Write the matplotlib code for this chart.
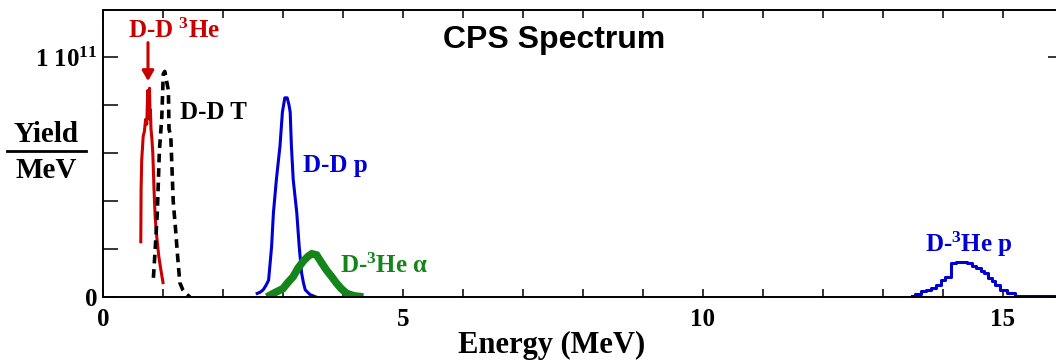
import numpy as np
import matplotlib.pyplot as plt
from matplotlib.lines import Line2D

plt.rcParams['font.family'] = 'Liberation Serif'
plt.rcParams['font.weight'] = 'bold'
plt.rcParams['mathtext.fontset'] = 'custom'
plt.rcParams['mathtext.rm'] = 'Liberation Serif:bold'
plt.rcParams['mathtext.default'] = 'rm'

# spectra, energy in MeV, yield/MeV in units of 1e11
dd_he3_e = [0.63, 0.635, 0.645, 0.66, 0.67, 0.69, 0.71, 0.73, 0.745, 0.76, 0.775, 0.785,
            0.79, 0.80, 0.815, 0.83, 0.85, 0.87, 0.90, 0.93, 0.96, 0.98, 1.0]
dd_he3_y = [0.23, 0.45, 0.57, 0.63, 0.67, 0.69, 0.74, 0.72, 0.86, 0.80, 0.87, 0.74,
            0.78, 0.70, 0.66, 0.60, 0.45, 0.33, 0.24, 0.17, 0.12, 0.09, 0.06]

dd_t_e = [0.84, 0.87, 0.905, 0.94, 0.98, 1.005, 1.03, 1.06, 1.09, 1.10, 1.13, 1.17,
          1.21, 1.24, 1.28, 1.33, 1.40, 1.45]
dd_t_y = [0.08, 0.20, 0.35, 0.61, 0.75, 0.93, 0.94, 0.90, 0.86, 0.70, 0.67, 0.40,
          0.28, 0.18, 0.06, 0.03, 0.01, 0.0]

dd_p_e = [2.57, 2.62, 2.67, 2.72, 2.76, 2.81, 2.84, 2.89, 2.92, 2.95, 2.99, 3.03,
          3.07, 3.10, 3.12, 3.14, 3.17, 3.20, 3.23, 3.27, 3.31, 3.34, 3.37, 3.41,
          3.45, 3.50, 3.55]
dd_p_y = [0.015, 0.02, 0.03, 0.05, 0.07, 0.21, 0.35, 0.49, 0.56, 0.63, 0.77, 0.83,
          0.83, 0.80, 0.77, 0.63, 0.49, 0.42, 0.35, 0.21, 0.10, 0.06, 0.03, 0.02,
          0.01, 0.005, 0.0]

dhe3_a_e = [2.73, 2.84, 3.00, 3.08, 3.17, 3.25, 3.34, 3.42, 3.48, 3.56, 3.65, 3.73,
            3.81, 3.89, 3.97, 4.06, 4.18, 4.34]
dhe3_a_y = [0.0, 0.015, 0.035, 0.06, 0.085, 0.12, 0.15, 0.17, 0.18, 0.175, 0.14, 0.11,
            0.085, 0.058, 0.035, 0.015, 0.005, 0.0]

dhe3_p_e = [13.48, 13.58, 13.67, 13.76, 13.84, 13.93, 14.0, 14.08, 14.17, 14.26, 14.34,
            14.45, 14.52, 14.59, 14.66, 14.72, 14.78, 14.84, 14.90, 15.0, 15.12, 15.28,
            15.45, 15.6, 15.75, 15.9, 16.0]
dhe3_p_y = [0.005, 0.012, 0.023, 0.03, 0.036, 0.05, 0.07, 0.085, 0.14, 0.147, 0.147,
            0.14, 0.13, 0.12, 0.11, 0.10, 0.078, 0.065, 0.05, 0.03, 0.015, 0.005,
            0.004, 0.003, 0.003, 0.003, 0.003]

RED = '#c80000'
BLUE = '#0000d2'
GREEN = '#13851a'

fig = plt.figure(figsize=(10.56, 3.6), dpi=100)
ax = fig.add_axes([103 / 1056, 63 / 360, 960 / 1056, 287 / 360])

scale = 1e11
ax.plot(dd_he3_e, np.array(dd_he3_y) * scale, color=RED, lw=2.2)
ax.plot(dd_t_e, np.array(dd_t_y) * scale, color='black', lw=2.6, ls=(0, (2.4, 1.6)))
ax.plot(dd_p_e, np.array(dd_p_y) * scale, color=BLUE, lw=2.2)
ax.plot(dhe3_a_e, np.array(dhe3_a_y) * scale, color=GREEN, lw=5.5,
        solid_joinstyle='miter', solid_capstyle='butt')
ax.plot(dhe3_p_e, np.array(dhe3_p_y) * scale, color=BLUE, lw=2.2, drawstyle='steps-mid')

ax.set_xlim(0, 16)
ax.set_ylim(0, 1.196e11)

ax.set_xticks([0, 5, 10, 15])
ax.set_xticks(np.arange(0, 17, 1), minor=True)
ax.set_yticks([0, 1e11])
ax.set_yticklabels(['0', '1 10$^{11}$'])
ax.set_yticks(np.arange(0, 1.2e11, 2e10), minor=True)
ax.tick_params(axis='both', which='both', direction='in', top=True, right=True,
               labelsize=18, width=1.1)
ax.tick_params(axis='y', which='minor', right=False)
ax.tick_params(axis='x', which='both', length=6, pad=8)
ax.tick_params(axis='y', which='both', length=11, pad=4)
for s in ax.spines.values():
    s.set_linewidth(1.4)

ax.set_xlabel('Energy (MeV)', fontsize=22, fontweight='bold', labelpad=0)
ax.xaxis.label.set_x(0.467)

# fraction-style y label
fig.text(46 / 1056, 1 - 134 / 360, 'Yield', fontsize=21, ha='center', va='center')
fig.text(46 / 1056, 1 - 170 / 360, 'MeV', fontsize=21, ha='center', va='center')
fig.add_artist(Line2D([7 / 1056, 86 / 1056], [1 - 151 / 360, 1 - 151 / 360],
                      color='black', lw=2, transform=fig.transFigure))

ax.text(7.52, 1.07e11, 'CPS Spectrum', family='Liberation Sans', fontsize=23,
        fontweight='bold', ha='center', va='center')

ax.text(0.42, 1.079e11, 'D-D $^3$He', color=RED, fontsize=18, ha='left', va='baseline')
ax.annotate('', xy=(0.75, 0.90e11), xytext=(0.75, 1.06e11),
            arrowprops=dict(arrowstyle='-|>,head_length=0.6,head_width=0.35',
                            color=RED, lw=2.2, shrinkA=0, shrinkB=0))
ax.text(1.28, 0.77e11, 'D-D T', color='black', fontsize=18, ha='left', va='center')
ax.text(3.33, 0.55e11, 'D-D p', color=BLUE, fontsize=18, ha='left', va='center')
ax.text(3.95, 0.13e11, 'D-$^3$He α', color=GREEN, fontsize=18, ha='left', va='center')
ax.text(13.7, 0.22e11, 'D-$^3$He p', color=BLUE, fontsize=18, ha='left', va='center')

fig.savefig('out.png', dpi=100)
